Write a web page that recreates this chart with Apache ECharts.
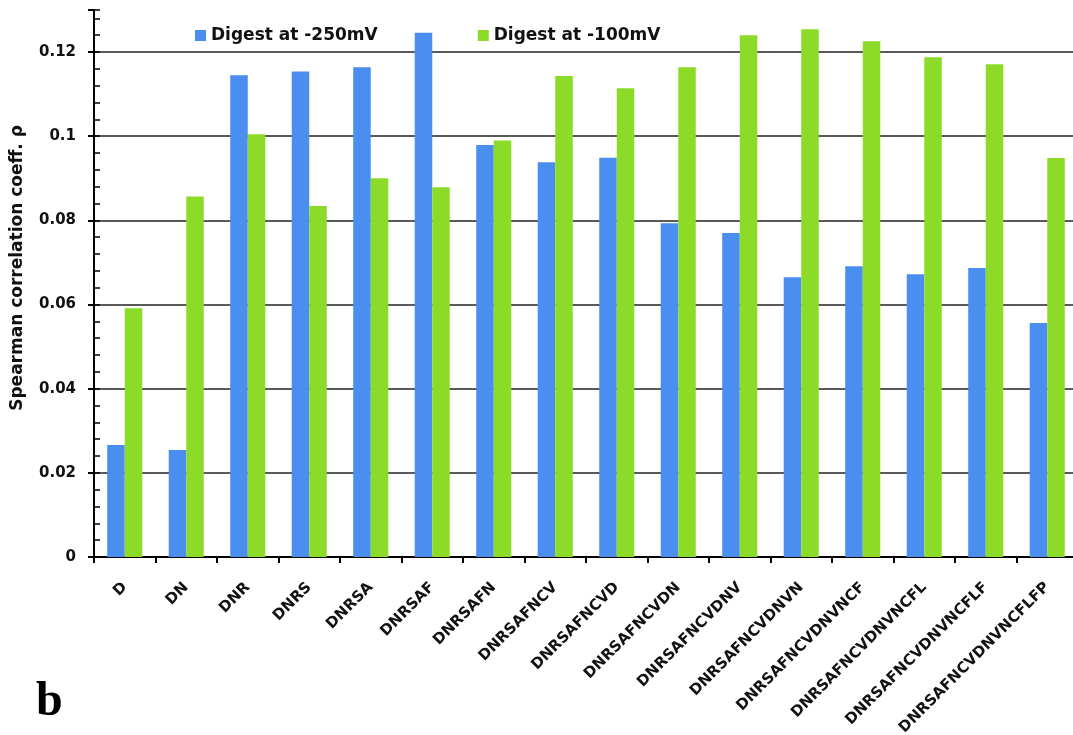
<!DOCTYPE html>
<html>
<head>
<meta charset="utf-8">
<script src="https://cdn.jsdelivr.net/npm/echarts@6/dist/echarts.min.js"></script>
<style>
  html, body { margin: 0; padding: 0; background: #fff; }
  #chart { width: 1073px; height: 735px; }
</style>
</head>
<body>
<div id="chart"></div>
<script>
// Feature sets (cumulative) on the x axis
const categories = ['D', 'DN', 'DNR', 'DNRS', 'DNRSA', 'DNRSAF', 'DNRSAFN', 'DNRSAFNCV',
  'DNRSAFNCVD', 'DNRSAFNCVDN', 'DNRSAFNCVDNV', 'DNRSAFNCVDNVN', 'DNRSAFNCVDNVNCF',
  'DNRSAFNCVDNVNCFL', 'DNRSAFNCVDNVNCFLF', 'DNRSAFNCVDNVNCFLFP'];

// Spearman correlation coefficients per digest voltage
const digest250 = [0.0266, 0.0254, 0.1145, 0.1154, 0.1164, 0.1246, 0.0979, 0.0938,
  0.0949, 0.0793, 0.0770, 0.0665, 0.0691, 0.0672, 0.0687, 0.0556];
const digest100 = [0.0591, 0.0857, 0.1005, 0.0834, 0.0900, 0.0879, 0.0990, 0.1143,
  0.1114, 0.1164, 0.1240, 0.1254, 0.1226, 0.1188, 0.1171, 0.0948];

const seriesNames = ['Digest at -250mV', 'Digest at -100mV'];
const yTickLabels = ['0', '0.02', '0.04', '0.06', '0.08', '0.1', '0.12'];
const yTitle = 'Spearman correlation coeff. \u03c1';
const panelLetter = 'b';

const FONT = '"DejaVu Sans", sans-serif';
const BLUE = '#4a8eef';
const GREEN = '#8cdb28';

const chart = echarts.init(document.getElementById('chart'), null, { renderer: 'canvas' });

chart.setOption({
  animation: false,
  backgroundColor: '#ffffff',
  grid: {
    left: 94, top: 10, width: 984, height: 547,
    containLabel: false,
    outerBoundsMode: 'none'
  },
  legend: {
    data: seriesNames,
    left: 190,
    top: 22,
    itemWidth: 11,
    itemHeight: 11,
    itemGap: 100,
    icon: 'rect',
    textStyle: { fontFamily: FONT, fontWeight: 'bold', fontSize: 17, color: '#111' }
  },
  xAxis: {
    type: 'category',
    data: categories,
    boundaryGap: true,
    axisLine: { lineStyle: { color: '#000', width: 2 } },
    axisTick: { show: true, alignWithLabel: false, length: 6, lineStyle: { color: '#000', width: 2 } },
    axisLabel: {
      interval: 0,
      rotate: 45,
      margin: 28,
      fontFamily: FONT,
      fontWeight: 'bold',
      fontSize: 15,
      color: '#111'
    }
  },
  yAxis: [
    {
      type: 'value',
      min: 0,
      max: 0.13,
      interval: 0.02,
      axisLine: { show: true, lineStyle: { color: '#000', width: 2 } },
      axisTick: { show: true, inside: false, length: 6, lineStyle: { color: '#000', width: 2 } },
      axisLabel: {
        margin: 18,
        fontFamily: FONT,
        fontWeight: 'bold',
        fontSize: 15,
        color: '#111',
        formatter: (v, i) => yTickLabels[i] || ''
      },
      splitLine: {
        show: true,
        showMaxLine: false,
        lineStyle: { color: '#222', width: 1.5 }
      }
    },
    {
      // fine inner ticks along the value axis
      type: 'value',
      position: 'left',
      min: 0,
      max: 0.13,
      interval: 0.004,
      axisLine: { show: false },
      axisTick: { show: true, inside: true, length: 6, lineStyle: { color: '#000', width: 1.5 } },
      axisLabel: { show: false },
      splitLine: { show: false }
    }
  ],
  series: [
    {
      name: seriesNames[0],
      type: 'bar',
      data: digest250,
      barWidth: '28.5%',
      barGap: '0%',
      itemStyle: { color: BLUE },
      z: 2
    },
    {
      name: seriesNames[1],
      type: 'bar',
      data: digest100,
      barWidth: '28.5%',
      barGap: '0%',
      itemStyle: { color: GREEN },
      z: 2
    }
  ],
  graphic: [
    {
      type: 'text',
      x: 18,
      y: 268,
      rotation: Math.PI / 2,
      style: {
        text: yTitle,
        font: 'bold 17px ' + FONT,
        fill: '#111',
        align: 'center',
        verticalAlign: 'middle'
      }
    },
    {
      type: 'text',
      x: 36,
      y: 727,
      style: {
        text: panelLetter,
        font: 'bold 48px "Liberation Serif", serif',
        fill: '#000',
        align: 'left',
        verticalAlign: 'bottom'
      }
    }
  ]
});
</script>
</body>
</html>
